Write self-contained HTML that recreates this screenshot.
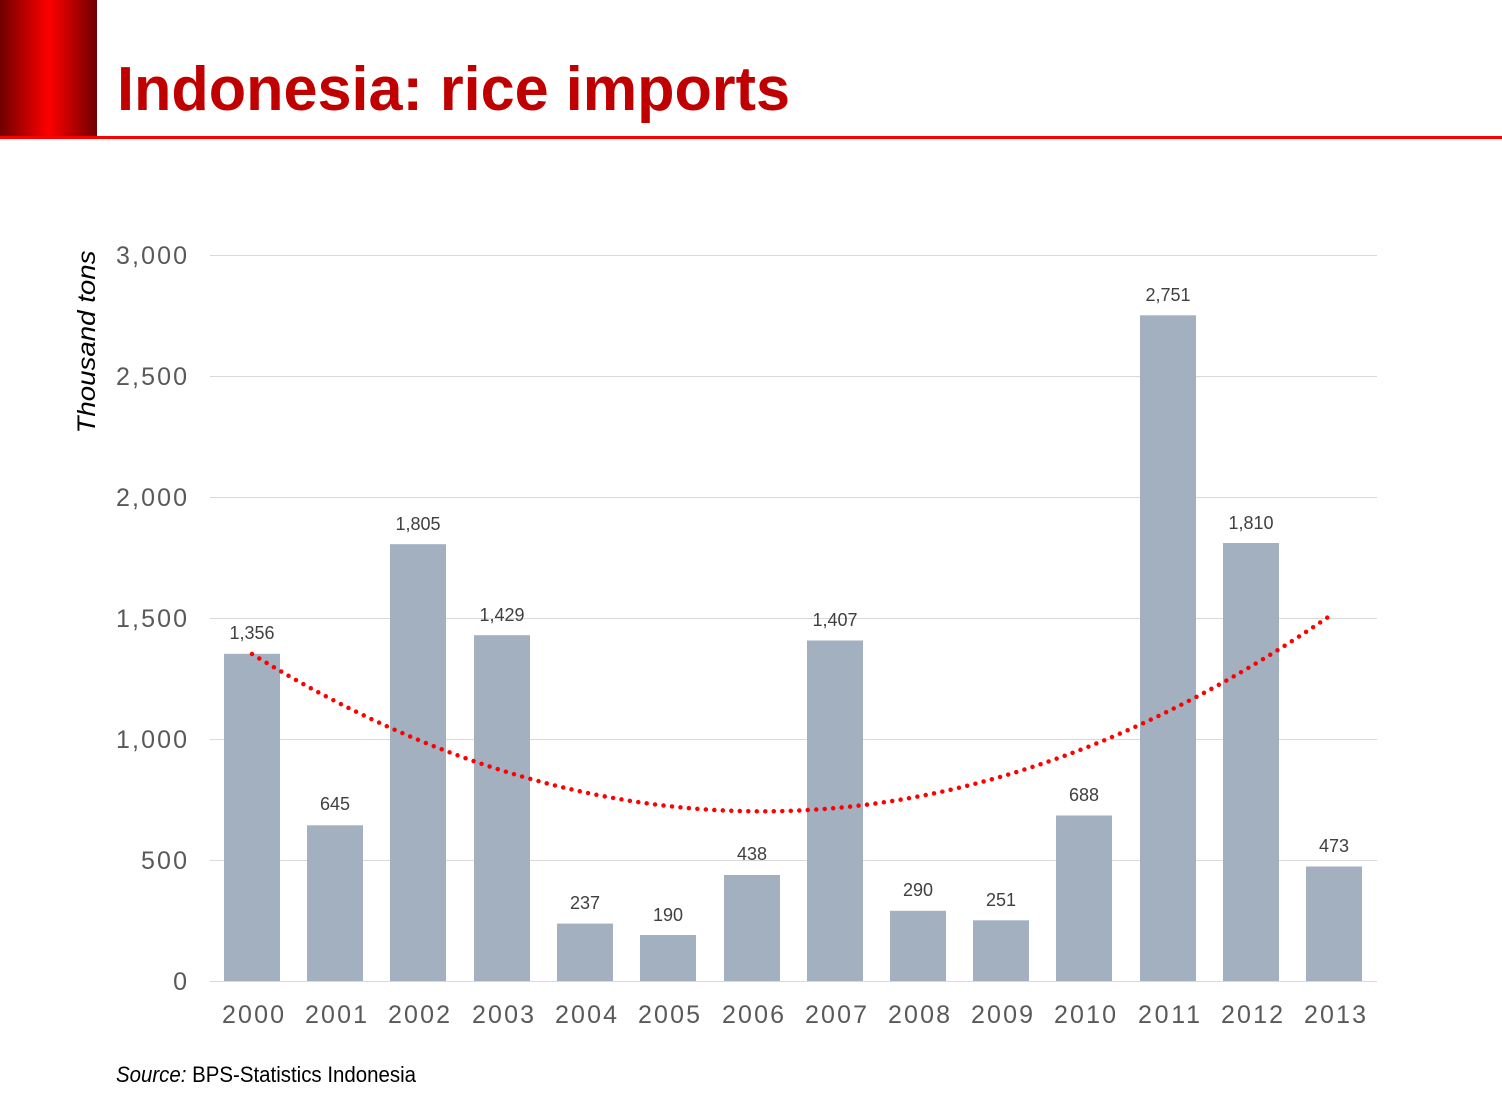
<!DOCTYPE html>
<html><head><meta charset="utf-8"><style>
html,body{margin:0;padding:0;background:#fff;}
svg{display:block;}
</style></head><body>
<svg width="1502" height="1104" viewBox="0 0 1502 1104" xmlns="http://www.w3.org/2000/svg" font-family="Liberation Sans, sans-serif">
<defs>
<linearGradient id="g" x1="0" x2="1" y1="0" y2="0">
<stop offset="0" stop-color="#700000"/>
<stop offset="0.5" stop-color="#ff0000"/>
<stop offset="1" stop-color="#700000"/>
</linearGradient>
</defs>
<rect x="0" y="0" width="97" height="137" fill="url(#g)"/>
<rect x="0" y="136" width="1502" height="3" fill="#ff0000"/>
<text x="117" y="110" font-size="62" font-weight="bold" fill="#c00000" textLength="673" lengthAdjust="spacingAndGlyphs">Indonesia: rice imports</text>

<g stroke="#d9d9d9" stroke-width="1">
<line x1="210" x2="1377" y1="255.5" y2="255.5"/>
<line x1="210" x2="1377" y1="376.5" y2="376.5"/>
<line x1="210" x2="1377" y1="497.5" y2="497.5"/>
<line x1="210" x2="1377" y1="618.5" y2="618.5"/>
<line x1="210" x2="1377" y1="739.5" y2="739.5"/>
<line x1="210" x2="1377" y1="860.5" y2="860.5"/>
<line x1="210" x2="1377" y1="981.5" y2="981.5"/>
</g>
<g font-size="25" fill="#595959" text-anchor="end" lengthAdjust="spacingAndGlyphs">
<text x="187" y="264" textLength="71">3,000</text>
<text x="187" y="385" textLength="71">2,500</text>
<text x="187" y="506" textLength="71">2,000</text>
<text x="187" y="627" textLength="71">1,500</text>
<text x="187" y="748" textLength="71">1,000</text>
<text x="187" y="869" textLength="46">500</text>
<text x="187" y="990">0</text>
</g>
<text transform="translate(95,342) rotate(-90)" font-size="25" font-style="italic" fill="#000" text-anchor="middle" textLength="183" lengthAdjust="spacingAndGlyphs">Thousand tons</text>

<g fill="#a3b0bf">
<rect x="224" y="653.8" width="56" height="327.2"/>
<rect x="307" y="825.3" width="56" height="155.7"/>
<rect x="390" y="544.2" width="56" height="436.8"/>
<rect x="474" y="635.2" width="56" height="345.8"/>
<rect x="557" y="923.6" width="56" height="57.4"/>
<rect x="640" y="935.0" width="56" height="46.0"/>
<rect x="724" y="875.0" width="56" height="106.0"/>
<rect x="807" y="640.5" width="56" height="340.5"/>
<rect x="890" y="910.8" width="56" height="70.2"/>
<rect x="973" y="920.3" width="56" height="60.7"/>
<rect x="1056" y="815.5" width="56" height="165.5"/>
<rect x="1140" y="315.3" width="56" height="665.7"/>
<rect x="1223" y="543.0" width="56" height="438.0"/>
<rect x="1306" y="866.5" width="56" height="114.5"/>
</g>
<g font-size="18" fill="#404040" text-anchor="middle">
<text x="252" y="639">1,356</text>
<text x="335" y="810">645</text>
<text x="418" y="530">1,805</text>
<text x="502" y="621">1,429</text>
<text x="585" y="909">237</text>
<text x="668" y="921">190</text>
<text x="752" y="860">438</text>
<text x="835" y="626">1,407</text>
<text x="918" y="896">290</text>
<text x="1001" y="906">251</text>
<text x="1084" y="801">688</text>
<text x="1168" y="301">2,751</text>
<text x="1251" y="529">1,810</text>
<text x="1334" y="852">473</text>
</g>
<path d="M252,654 Q793,988 1334,613" fill="none" stroke="#ff0000" stroke-width="4.5" stroke-linecap="round" stroke-dasharray="0 8.5"/>
<g font-size="25" fill="#595959" text-anchor="middle" lengthAdjust="spacingAndGlyphs">
<text x="253" y="1023" textLength="62">2000</text>
<text x="336" y="1023" textLength="62">2001</text>
<text x="419" y="1023" textLength="62">2002</text>
<text x="503" y="1023" textLength="62">2003</text>
<text x="586" y="1023" textLength="62">2004</text>
<text x="669" y="1023" textLength="62">2005</text>
<text x="753" y="1023" textLength="62">2006</text>
<text x="836" y="1023" textLength="62">2007</text>
<text x="919" y="1023" textLength="62">2008</text>
<text x="1002" y="1023" textLength="62">2009</text>
<text x="1085" y="1023" textLength="62">2010</text>
<text x="1169" y="1023" textLength="62">2011</text>
<text x="1252" y="1023" textLength="62">2012</text>
<text x="1335" y="1023" textLength="62">2013</text>
</g>
<text x="116" y="1082" font-size="22" fill="#000" textLength="300" lengthAdjust="spacingAndGlyphs"><tspan font-style="italic">Source:</tspan> BPS-Statistics Indonesia</text>
</svg>
</body></html>
